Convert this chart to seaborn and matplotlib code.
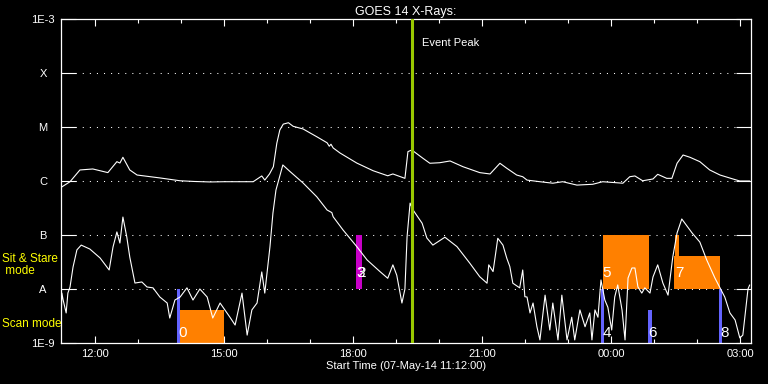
import matplotlib
matplotlib.use("Agg")
import matplotlib.pyplot as plt
import matplotlib.transforms as mtransforms
from matplotlib.ticker import FixedLocator, NullLocator, FixedFormatter
import seaborn as sns
import pandas as pd

# ---------------- data ----------------
title = "GOES 14 X-Rays:"
x_label = "Start Time (07-May-14 11:12:00)"
class_levels = [1e-9, 1e-8, 1e-7, 1e-6, 1e-5, 1e-4, 1e-3]
class_labels = ["1E-9", "A", "B", "C", "M", "X", "1E-3"]
hour_ticks = [12, 15, 18, 21, 24, 27]
hour_labels = ["12:00", "15:00", "18:00", "21:00", "00:00", "03:00"]
minor_hours = list(range(12, 28))
t_start, t_end = 11.2, 27.25
event_peak_time = 19.36
event_peak_text = "Event Peak"

# long channel (upper curve), hours since 00:00 of 07-May, W/m^2
long_time = [11.20, 11.41, 11.64, 11.94, 12.29, 12.50, 12.57, 12.64, 12.80, 12.97,
             13.50, 13.97, 14.30, 14.67, 15.00, 15.30, 15.67, 15.87, 15.94, 16.05,
             16.14, 16.22, 16.29, 16.37, 16.49, 16.60, 16.83, 17.15, 17.39, 17.44,
             17.48, 17.53, 17.69, 18.08, 18.46, 18.80, 18.92, 19.20, 19.27, 19.36,
             19.62, 19.78, 20.01, 20.25, 20.55, 20.94, 21.18, 21.41, 21.57, 21.80,
             21.94, 22.04, 22.34, 22.64, 22.87, 23.20, 23.57, 23.80, 24.27, 24.43,
             24.55, 24.73, 24.97, 25.08, 25.29, 25.41, 25.53, 25.67, 25.83, 26.06,
             26.29, 26.53, 26.83, 26.99, 27.22]
long_flux = [7.6e-7, 9.7e-7, 1.6e-6, 1.67e-6, 1.43e-6, 2.28e-6, 2.15e-6, 2.75e-6, 1.6e-6, 1.29e-6,
             1.14e-6, 1.01e-6, 0.98e-6, 0.96e-6, 0.97e-6, 0.97e-6, 0.97e-6, 1.24e-6, 1.04e-6, 1.35e-6,
             1.84e-6, 5.0e-6, 8.8e-6, 1.13e-5, 1.2e-5, 1.03e-5, 9.2e-6, 6.6e-6, 5.1e-6, 4.4e-6,
             4.8e-6, 4.1e-6, 3.3e-6, 2.15e-6, 1.55e-6, 1.25e-6, 1.35e-6, 1.12e-6, 3.5e-6, 3.75e-6,
             2.63e-6, 2.13e-6, 2.18e-6, 2.35e-6, 1.84e-6, 1.43e-6, 1.35e-6, 2.13e-6, 1.72e-6, 1.29e-6,
             1.2e-6, 1.04e-6, 0.97e-6, 0.91e-6, 0.97e-6, 0.84e-6, 0.87e-6, 0.97e-6, 0.91e-6, 1.2e-6,
             1.24e-6, 1.01e-6, 1.09e-6, 1.33e-6, 1.12e-6, 1.12e-6, 2.13e-6, 3.03e-6, 2.75e-6, 2.28e-6,
             1.6e-6, 1.29e-6, 1.09e-6, 1.0e-6, 1.0e-6]

# short channel (lower curve)
short_time = [11.20, 11.22, 11.25, 11.32, 11.36, 11.41, 11.48, 11.57, 11.67, 11.87,
              12.11, 12.32, 12.41, 12.50, 12.57, 12.64, 12.73, 12.80, 12.92, 13.08,
              13.20, 13.34, 13.50, 13.67, 13.73, 13.85, 13.97, 14.13, 14.27, 14.43,
              14.60, 14.73, 14.90, 15.13, 15.25, 15.41, 15.53, 15.64, 15.76, 15.87,
              15.94, 16.06, 16.13, 16.20, 16.36, 16.53, 16.83, 17.15, 17.39, 17.50,
              17.53, 17.76, 18.08, 18.32, 18.62, 18.80, 18.92, 19.01, 19.13, 19.20,
              19.25, 19.32, 19.39, 19.60, 19.71, 19.85, 20.13, 20.41, 20.71, 20.94,
              21.11, 21.15, 21.25, 21.36, 21.48, 21.57, 21.64, 21.71, 21.83, 21.87,
              21.94, 21.99, 22.04, 22.11, 22.18, 22.27, 22.34, 22.46, 22.57, 22.64,
              22.76, 22.85, 22.97, 23.08, 23.15, 23.27, 23.39, 23.50, 23.55, 23.62,
              23.69, 23.76, 23.85, 23.92, 24.01, 24.08, 24.15, 24.25, 24.32, 24.39,
              24.48, 24.55, 24.62, 24.71, 24.78, 24.90, 24.97, 25.08, 25.20, 25.32,
              25.43, 25.53, 25.64, 25.88, 26.06, 26.22, 26.41, 26.53, 26.64, 26.76,
              26.88, 26.99, 27.06, 27.18, 27.22]
short_flux = [2.15e-9, 8.4e-9, 6.25e-9, 3.6e-9, 8.4e-9, 1.09e-8, 2.55e-8, 5.3e-8, 6.5e-8, 5.5e-8,
              3.75e-8, 2.25e-8, 6.0e-8, 1.14e-7, 7.1e-8, 2.15e-7, 9.2e-8, 3.9e-8, 1.29e-8, 1.35e-8,
              1.09e-8, 1.05e-8, 7.1e-9, 5.5e-9, 2.9e-9, 6.25e-9, 7.1e-9, 1.05e-8, 6.25e-9, 1.0e-8,
              7.1e-9, 2.9e-9, 5.5e-9, 3.0e-9, 2.15e-9, 8.4e-9, 1.4e-9, 4.1e-9, 5.5e-9, 2.07e-8,
              8.4e-9, 6.0e-8, 2.55e-7, 6.8e-7, 1.98e-6, 1.49e-6, 9.2e-7, 5.1e-7, 2.9e-7, 2.6e-7,
              2.18e-7, 1.24e-7, 6.1e-8, 3.45e-8, 2.1e-8, 1.58e-8, 2.8e-8, 1.8e-8, 5.5e-9, 1.0e-8,
              9.3e-8, 3.9e-7, 2.9e-7, 1.65e-7, 8.8e-8, 6.5e-8, 9.1e-8, 6.1e-8, 3.0e-8, 1.69e-8,
              1.28e-8, 2.8e-8, 2.1e-8, 8.7e-8, 6.5e-8, 3.7e-8, 2.6e-8, 1.28e-8, 1.1e-8, 1.05e-8,
              2.25e-8, 7.2e-9, 7.1e-9, 3.6e-9, 5.5e-9, 2.0e-9, 1.14e-9, 7.7e-9, 1.74e-9, 5.5e-9,
              1.14e-9, 7.7e-9, 1.14e-9, 3.0e-9, 1.14e-9, 4.1e-9, 2.0e-9, 3.6e-9, 1.14e-9, 4.1e-9,
              3.0e-9, 1.47e-8, 6.25e-9, 4.6e-9, 1.74e-9, 7.1e-9, 1.19e-8, 4.1e-9, 1.14e-9, 1.6e-8,
              2.45e-8, 2.45e-8, 1.09e-8, 8.4e-9, 1.05e-8, 8.4e-9, 1.67e-8, 2.8e-8, 1.29e-8, 7.7e-9,
              3.9e-8, 1.09e-7, 1.98e-7, 1.09e-7, 7.4e-8, 3.45e-8, 1.6e-8, 1.05e-8, 7.1e-9, 3.6e-9,
              2.67e-9, 1.24e-9, 1.4e-9, 1.0e-8, 1.19e-8]

# observation blocks
block_start = [13.90, 13.97, 18.06, 23.76, 23.80, 24.85, 25.46, 25.48, 26.50]
block_end = [13.97, 14.98, 18.20, 23.83, 24.87, 24.94, 26.52, 25.57, 26.57]
block_low = [1e-9, 1e-9, 1e-8, 1e-9, 1e-8, 1e-9, 1e-8, 1e-8, 1e-9]
block_high = [1e-8, 4.1e-9, 1e-7, 1e-8, 1e-7, 4.1e-9, 4.1e-8, 1e-7, 1e-8]
block_kind = ["scan", "box", "stare", "scan", "box", "scan", "box", "box", "scan"]

obs_text = ["0", "2", "3", "4", "5", "6", "7", "8"]
obs_time = [13.93, 18.08, 18.08, 23.80, 23.80, 24.87, 25.48, 26.53]
obs_flux = [1.56e-9, 2.02e-8, 2.02e-8, 1.56e-9, 2.02e-8, 1.56e-9, 2.02e-8, 1.56e-9]

mode_text = ["Sit & Stare", " mode", "Scan mode"]
mode_flux = [3.6e-8, 2.15e-8, 2.25e-9]

# ---------------- style ----------------
kind_color = {"scan": "#6464ff", "box": "#ff8000", "stare": "#c800c8"}
sns.set_theme(style="ticks", rc={
    "figure.facecolor": "black", "axes.facecolor": "black",
    "axes.edgecolor": "white", "text.color": "white",
    "xtick.color": "white", "ytick.color": "white",
    "axes.labelcolor": "white", "savefig.facecolor": "black",
})
plt.rcParams["font.family"] = ["Liberation Sans", "DejaVu Sans"]

fig = plt.figure(figsize=(7.68, 3.84), dpi=100)
ax = fig.add_axes([61 / 768, 1 - 343 / 384, 690 / 768, 324 / 384])

ax.set_yscale("log")
ax.set_ylim(class_levels[0], class_levels[-1])
ax.set_xlim(t_start, t_end)

# dotted class lines
for lev in class_levels[1:-1]:
    ax.axhline(lev, color="white", lw=0.75, linestyle=(0, (1, 5.8)), zorder=1)

# observation blocks
for s, e, lo, hi, k in zip(block_start, block_end, block_low, block_high, block_kind):
    ax.bar(s, hi - lo, bottom=lo, width=e - s, align="edge",
           color=kind_color[k], linewidth=0, zorder=2)

long_df = pd.DataFrame({"time": long_time, "flux": long_flux})
short_df = pd.DataFrame({"time": short_time, "flux": short_flux})
sns.lineplot(data=long_df, x="time", y="flux", ax=ax, color="white",
             lw=0.8, estimator=None, sort=False, zorder=3)
sns.lineplot(data=short_df, x="time", y="flux", ax=ax, color="white",
             lw=0.8, estimator=None, sort=False, zorder=3)

ax.axvline(event_peak_time, color="#99c800", lw=2.2, zorder=4)
ax.text(event_peak_time + 0.24, 3.6e-4, event_peak_text, color="white",
        fontsize=8, ha="left", va="center", zorder=5)

for txt, t, f in zip(obs_text, obs_time, obs_flux):
    ax.text(t, f, txt, color="white", fontsize=11, ha="left", va="center",
            zorder=5, fontweight="light")

blend = mtransforms.blended_transform_factory(fig.transFigure, ax.transData)
for txt, f in zip(mode_text, mode_flux):
    ax.text(2 / 768, f, txt, color="#ffff00", fontsize=8.5, ha="left",
            va="center", transform=blend, clip_on=False)

# ticks
ax.yaxis.set_major_locator(FixedLocator(class_levels))
ax.yaxis.set_major_formatter(FixedFormatter(class_labels))
ax.yaxis.set_minor_locator(NullLocator())
ax.xaxis.set_major_locator(FixedLocator(hour_ticks))
ax.xaxis.set_major_formatter(FixedFormatter(hour_labels))
ax.xaxis.set_minor_locator(FixedLocator(minor_hours))
ax.tick_params(axis="y", which="major", direction="in", length=10.5, width=0.8,
               left=True, right=True, labelsize=8, pad=13)
for lbl in ax.get_yticklabels():
    lbl.set_horizontalalignment("center")
ax.tick_params(axis="x", which="major", direction="in", length=5, width=0.8,
               top=True, bottom=True, labelsize=8, pad=4)
ax.tick_params(axis="x", which="minor", direction="in", length=3, width=0.8,
               top=True, bottom=True)
for sp in ax.spines.values():
    sp.set_visible(True)
    sp.set_color("white")
    sp.set_linewidth(0.9)

ax.set_xlabel(x_label, fontsize=8, labelpad=1.5)
ax.set_ylabel("")
ax.set_title(title, fontsize=9, color="white", pad=3)

fig.savefig("out.png", dpi=100, facecolor="black")
